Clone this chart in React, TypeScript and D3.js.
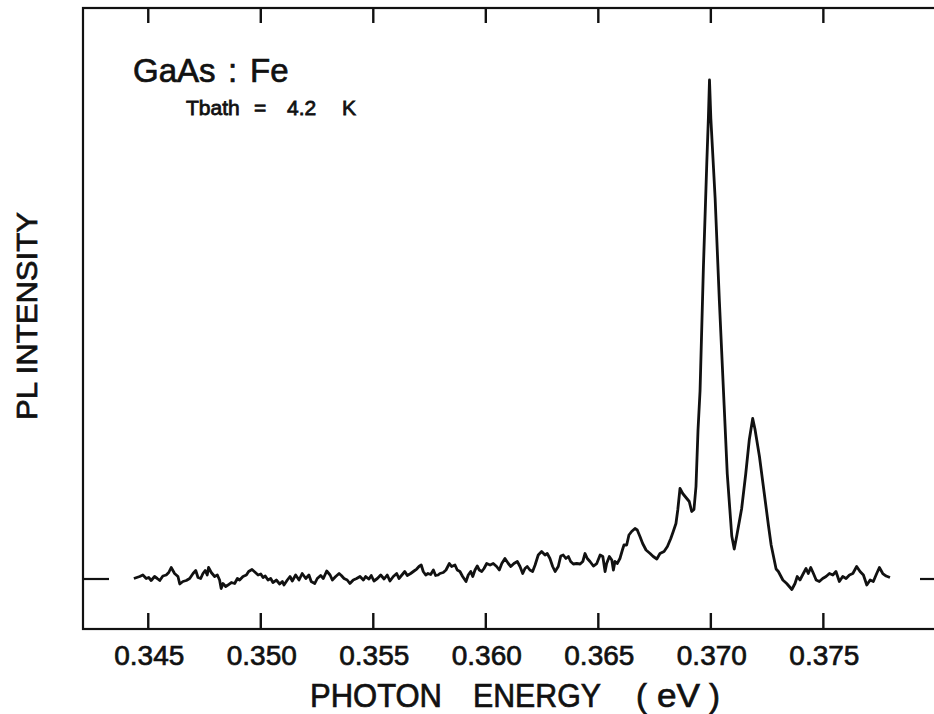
import React from "react";
import * as d3 from "d3";

// Photon energy (eV) of each sampled point of the PL spectrum
const energy: number[] = [
  0.34436, 0.34462, 0.34476, 0.34491, 0.34502, 0.34513, 0.34528, 0.3454, 0.34551, 0.34565,
  0.3458, 0.34591, 0.34602, 0.34617, 0.34632, 0.3464, 0.34654, 0.34669, 0.34684, 0.34699,
  0.34711, 0.34721, 0.34733, 0.34743, 0.34753, 0.34762, 0.34768, 0.3478, 0.34795, 0.34807,
  0.34817, 0.34824, 0.34832, 0.34844, 0.34854, 0.34869, 0.34884, 0.34896, 0.34906, 0.34921,
  0.34936, 0.34946, 0.34961, 0.34976, 0.34988, 0.35, 0.3501, 0.3502, 0.35032, 0.35044,
  0.35054, 0.35069, 0.35084, 0.35096,
  0.35103, 0.35118, 0.3513, 0.3514, 0.35155, 0.3517, 0.35184, 0.352, 0.35214, 0.35224,
  0.3524, 0.35251, 0.35266, 0.35278, 0.35293, 0.35308, 0.35318, 0.35333, 0.35348, 0.35358,
  0.3537, 0.35384, 0.35396, 0.35411, 0.35426, 0.35441, 0.35456, 0.35466, 0.35481, 0.35491,
  0.35503, 0.35518, 0.35533, 0.35548, 0.35562, 0.35574, 0.35589, 0.35604, 0.35614, 0.35629,
  0.3564, 0.35651, 0.35666, 0.35681, 0.35693, 0.35703, 0.35713, 0.35722, 0.35733, 0.35743,
  0.35755, 0.35767, 0.35777, 0.35788,
  0.35796, 0.35811, 0.35823, 0.35838, 0.35848, 0.35863, 0.35873, 0.35885, 0.35897, 0.35912,
  0.35922, 0.35933, 0.35942, 0.35952, 0.35962, 0.35971, 0.35982, 0.35992, 0.36004, 0.36019,
  0.36033, 0.36048, 0.3606, 0.36071, 0.36085, 0.361, 0.36111, 0.36125, 0.3614, 0.36152,
  0.36164, 0.36174, 0.36184, 0.36196, 0.36208, 0.36219, 0.36233, 0.36248, 0.36263, 0.36273,
  0.36285, 0.36297, 0.36308, 0.36322, 0.36333, 0.36344, 0.36356, 0.36367, 0.36377, 0.36389,
  0.36404, 0.36419, 0.36431, 0.36441, 0.36451, 0.36463, 0.36478,
  0.36493, 0.36508, 0.3652, 0.3653, 0.36537, 0.36549, 0.3656, 0.36567, 0.36574, 0.36584,
  0.36596, 0.36607, 0.36614, 0.36626, 0.36636, 0.36648, 0.36663, 0.36673, 0.36685, 0.36697,
  0.36712, 0.3673, 0.36744, 0.3676, 0.36774, 0.36792, 0.36807, 0.36822, 0.36833, 0.36845,
  0.36853, 0.36863, 0.36875, 0.36893, 0.36904, 0.36915, 0.36925, 0.36934, 0.36943, 0.36952,
  0.36967, 0.36982, 0.36989, 0.36994, 0.37, 0.37019, 0.37038, 0.37059, 0.37073, 0.37093,
  0.37104, 0.37115, 0.37137, 0.37155, 0.37171, 0.37186, 0.37196, 0.37216, 0.37236, 0.37256,
  0.37268, 0.37279, 0.3729, 0.373, 0.3732, 0.37337, 0.3736, 0.37374, 0.37384, 0.37396,
  0.37411, 0.37423, 0.37433, 0.37444, 0.37456, 0.37468, 0.37482, 0.37497, 0.37512, 0.37527,
  0.37542, 0.37556, 0.37571, 0.37586, 0.37601, 0.37616, 0.37631, 0.37648, 0.37663, 0.37678,
  0.37693, 0.37708, 0.37722, 0.37737, 0.37749, 0.37764, 0.37779, 0.37796,
];

// PL intensity (arbitrary units, baseline = 0, main peak ~ 100)
const intensity: number[] = [
  0.1, 0.5, 0.8, 0.1, 0.3, -0.3, 0.5, 0.1, -0.3, 0.6,
  0.8, 1.3, 2.3, 1.1, 0.5, -1.0, -0.5, -0.3, 0.1, 1.1,
  1.7, 0.3, 0.1, 1.1, 1.7, 0.8, 2.3, 1.3, 0.5, 0.8,
  -0.2, -1.9, -0.9, -1.5, -1.2, -0.7, -0.9, 0.1, -0.2, 0.5,
  0.8, 1.5, 1.9, 1.3, 0.8, 1.0, 0.3, 0.6, -0.2, 0.1,
  -0.7, -0.2, -1.0, -0.5,
  -1.2, -0.2, 0.5, -0.4, 0.8, -0.2, 1.1, 0.1, 0.8, -0.5,
  -0.9, 0.1, 0.7, 0.1, 1.6, 0.8, -0.2, 0.5, 1.1, 0.7,
  0.1, -0.2, -0.9, -0.2, 0.1, 0.5, -0.2, 0.5, 0.0, 0.7,
  -0.4, 0.1, 0.8, 0.0, 0.8, -0.4, 0.5, 1.1, 0.1, 0.9,
  1.5, 0.7, 1.1, 1.6, 2.0, 2.5, 2.8, 1.5, 0.8, 1.1,
  0.9, 1.8, 0.7, 0.8,
  1.1, 1.3, 1.8, 3.1, 2.5, 2.8, 1.8, 1.5, 0.5, -0.5,
  0.8, 1.5, 0.5, 1.8, 2.6, 1.8, 1.5, 2.1, 3.1, 2.8,
  3.1, 2.5, 1.8, 3.1, 4.1, 3.1, 2.5, 3.1, 3.5, 2.5,
  1.1, 2.1, 2.5, 1.8, 1.5, 2.8, 4.8, 5.5, 4.8, 5.1,
  4.1, 2.5, 1.5, 2.5, 4.6, 4.8, 4.1, 4.5, 3.5, 3.0,
  3.1, 3.0, 3.5, 5.1, 4.1, 3.5, 2.6,
  3.1, 4.8, 4.5, 1.5, 3.1, 4.5, 3.8, 1.8, 3.5, 3.1,
  4.1, 5.8, 6.8, 6.8, 8.8, 9.5, 10.1, 9.8, 8.5, 7.1,
  5.8, 5.1, 4.5, 4.0, 5.1, 5.5, 6.5, 8.1, 9.5, 11.1,
  13.8, 18.1, 17.1, 16.1, 15.5, 13.5, 13.9, 18.5, 29.8, 37.6,
  62.4, 83.2, 92.1, 99.8, 92.1, 76.2, 55.5, 34.8, 21.0, 8.6,
  6.0, 8.6, 14.1, 21.0, 27.9, 32.1, 30.0, 24.5, 17.6, 10.7,
  6.8, 4.4, 2.0, 1.5, -0.2, -0.9, -2.1, -0.9, 0.5, -0.2,
  1.1, 2.1, 1.1, 2.3, 1.1, -0.2, -0.5, 0.1, 0.5, 1.1,
  0.8, 1.5, -0.5, 0.5, 0.1, 0.8, 1.1, 2.5, 1.5, 0.8,
  -1.2, -0.2, -0.5, 1.1, 2.3, 1.1, 0.6, 0.3,
];

const xTicks: number[] = [0.345, 0.35, 0.355, 0.36, 0.365, 0.37, 0.375];
const xDomain: [number, number] = [0.3421, 0.38045];
const yDomain: [number, number] = [-10, 114.2];
const yZeroMarker = 0;

const FONT = "'Liberation Sans', Arial, sans-serif";
const INK = "#111";

export default function App() {
  const W = 934;
  const H = 714;
  const left = 83;
  const right = 946;
  const top = 8;
  const bottom = 629;

  const x = d3.scaleLinear().domain(xDomain).range([left, right]);
  const y = d3.scaleLinear().domain(yDomain).range([bottom, top]);

  const pts: [number, number][] = energy
    .slice(0, Math.min(energy.length, intensity.length))
    .map((e, i) => [e, intensity[i]]);

  const line = d3
    .line<[number, number]>()
    .x((d) => x(d[0]))
    .y((d) => y(d[1]))
    .curve(d3.curveLinear);

  const fmt = d3.format(".3f");
  const y0 = y(yZeroMarker);
  const textStroke = { stroke: INK, strokeWidth: 0.7 };

  return (
    <svg
      width={W}
      height={H}
      style={{ position: "absolute", left: 0, top: 0, background: "#fff" }}
    >
      <rect x={0} y={0} width={W} height={H} fill="#fff" />
      {/* frame */}
      <rect
        x={left}
        y={top}
        width={right - left}
        height={bottom - top}
        fill="none"
        stroke={INK}
        strokeWidth={2.2}
      />
      {/* ticks */}
      {xTicks.map((t) => (
        <g key={t}>
          <line x1={x(t)} x2={x(t)} y1={bottom} y2={bottom - 16} stroke={INK} strokeWidth={2.4} />
          <line x1={x(t)} x2={x(t)} y1={top} y2={top + 15} stroke={INK} strokeWidth={2.4} />
          <text
            x={x(t) + 1}
            y={665}
            textAnchor="middle"
            fontFamily={FONT}
            fontSize={28}
            fill={INK}
            {...textStroke}
          >
            {fmt(t)}
          </text>
        </g>
      ))}
      {/* zero markers */}
      <line x1={left} x2={left + 26} y1={y0} y2={y0} stroke={INK} strokeWidth={2.2} />
      <line x1={right - 26} x2={right} y1={y0} y2={y0} stroke={INK} strokeWidth={2.2} />

      {/* spectrum */}
      <path
        d={line(pts) || ""}
        fill="none"
        stroke={INK}
        strokeWidth={2.8}
        strokeLinejoin="round"
      />

      {/* annotations */}
      <text y={82} fontFamily={FONT} fontSize={33} fill={INK} {...textStroke}>
        <tspan x={133}>GaAs</tspan>
        <tspan x={228}>:</tspan>
        <tspan x={250}>Fe</tspan>
      </text>
      <text y={115} fontFamily={FONT} fontSize={21} fill={INK} stroke={INK} strokeWidth={0.8}>
        <tspan x={186}>Tbath</tspan>
        <tspan x={254}>=</tspan>
        <tspan x={287}>4.2</tspan>
        <tspan x={342}>K</tspan>
      </text>

      {/* x axis title */}
      <g fontFamily={FONT} fontSize={33} fill={INK} {...textStroke}>
        <text x={310} y={707} textLength={132} lengthAdjust="spacingAndGlyphs">PHOTON</text>
        <text x={473} y={707} textLength={128} lengthAdjust="spacingAndGlyphs">ENERGY</text>
        <text x={636} y={707}>(</text>
        <text x={657} y={707} textLength={43} lengthAdjust="spacingAndGlyphs">eV</text>
        <text x={709} y={707}>)</text>
      </g>

      {/* y axis title */}
      <text
        transform="translate(37,316) rotate(-90)"
        textAnchor="middle"
        fontFamily={FONT}
        fontSize={30}
        fill={INK}
        textLength={208}
        lengthAdjust="spacingAndGlyphs"
        {...textStroke}
      >
        PL INTENSITY
      </text>
    </svg>
  );
}
